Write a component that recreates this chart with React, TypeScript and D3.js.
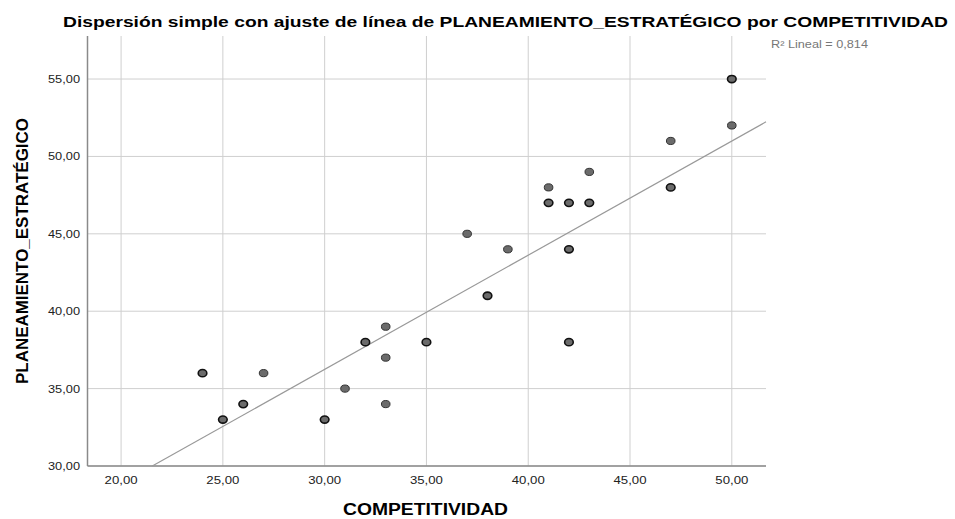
import React from "react";
import * as d3 from "d3";

const competitividad = [24, 25, 26, 27, 30, 31, 32, 33, 33, 33, 35, 37, 38, 39, 41, 41, 42, 42, 42, 43, 43, 47, 47, 50, 50];
const planeamiento = [36, 33, 34, 36, 33, 35, 38, 39, 37, 34, 38, 45, 41, 44, 48, 47, 47, 44, 38, 49, 47, 51, 48, 55, 52];
// number of overlapping cases at each point (darker markers)
const caseCount = [2, 2, 2, 1, 2, 1, 2, 1, 1, 1, 2, 1, 2, 1, 1, 2, 2, 2, 2, 1, 2, 1, 2, 2, 1];
const xTicks = [20, 25, 30, 35, 40, 45, 50];
const yTicks = [30, 35, 40, 45, 50, 55];
const xDomain = [18.35, 51.68];
const yDomain = [30, 57.78];
const fitIntercept = 14.12;
const fitSlope = 0.7375;
const r2Label = "R² Lineal = 0,814";
const title = "Dispersión simple con ajuste de línea de PLANEAMIENTO_ESTRATÉGICO por COMPETITIVIDAD";
const xTitle = "COMPETITIVIDAD";
const yTitle = "PLANEAMIENTO_ESTRATÉGICO";

const W = 955, H = 519;
const M = { left: 87.5, right: 766, top: 36, bottom: 466 };
const fmt = (v: number) => v.toFixed(2).replace(".", ",");

export default function App() {
  const x = d3.scaleLinear().domain(xDomain).range([M.left, M.right]);
  const y = d3.scaleLinear().domain(yDomain).range([M.bottom, M.top]);
  const font = "Arial, 'Liberation Sans', sans-serif";

  const xStart = Math.max(xDomain[0], (yDomain[0] - fitIntercept) / fitSlope);
  const xEnd = Math.min(xDomain[1], (yDomain[1] - fitIntercept) / fitSlope);
  const linePath = d3.line<number>().x((d) => x(d)).y((d) => y(fitIntercept + fitSlope * d))([xStart, xEnd]);

  return (
    <svg width={W} height={H} style={{ position: "absolute", left: 0, top: 0, background: "#fff" }} fontFamily={font}>
      <rect width={W} height={H} fill="#fff" />
      <text x={63} y={27} fontSize={15.5} fontWeight="bold" fill="#000" textLength={885} lengthAdjust="spacingAndGlyphs">{title}</text>
      {xTicks.map((t) => (
        <line key={"gx" + t} x1={x(t)} x2={x(t)} y1={M.top} y2={M.bottom} stroke="#cfcfcf" strokeWidth={1} />
      ))}
      {yTicks.map((t) => (
        <line key={"gy" + t} x1={M.left} x2={M.right} y1={y(t)} y2={y(t)} stroke="#cfcfcf" strokeWidth={1} />
      ))}
      <line x1={M.left} x2={M.left} y1={M.top} y2={M.bottom} stroke="#8a8a8a" strokeWidth={1.5} />
      <line x1={M.left} x2={M.right} y1={M.bottom} y2={M.bottom} stroke="#8a8a8a" strokeWidth={1.5} />
      {yTicks.map((t) => (
        <text key={"ty" + t} x={80} y={y(t) + 4} textAnchor="end" fontSize={11} fill="#222" textLength={32} lengthAdjust="spacingAndGlyphs">{fmt(t)}</text>
      ))}
      {xTicks.map((t) => (
        <text key={"tx" + t} x={x(t) - 16.5} y={484} fontSize={11} fill="#222" textLength={33} lengthAdjust="spacingAndGlyphs">{fmt(t)}</text>
      ))}
      <text x={343} y={515} fontSize={16} fontWeight="bold" fill="#000" textLength={165} lengthAdjust="spacingAndGlyphs">{xTitle}</text>
      <text transform={`translate(28,384) rotate(-90)`} fontSize={16} fontWeight="bold" fill="#000" textLength={266} lengthAdjust="spacingAndGlyphs">{yTitle}</text>
      {linePath && <path d={linePath} fill="none" stroke="#999" strokeWidth={1.2} />}
      {competitividad.map((c, i) => (
        <ellipse key={"p" + i} cx={x(c)} cy={y(planeamiento[i])} rx={4.3} ry={3.6}
          fill="#6b6b6b" stroke={caseCount[i] > 1 ? "#111" : "#333"} strokeWidth={caseCount[i] > 1 ? 1.6 : 1} />
      ))}
      <text x={771} y={48} fontSize={10} fill="#777" textLength={97} lengthAdjust="spacingAndGlyphs">{r2Label}</text>
    </svg>
  );
}
